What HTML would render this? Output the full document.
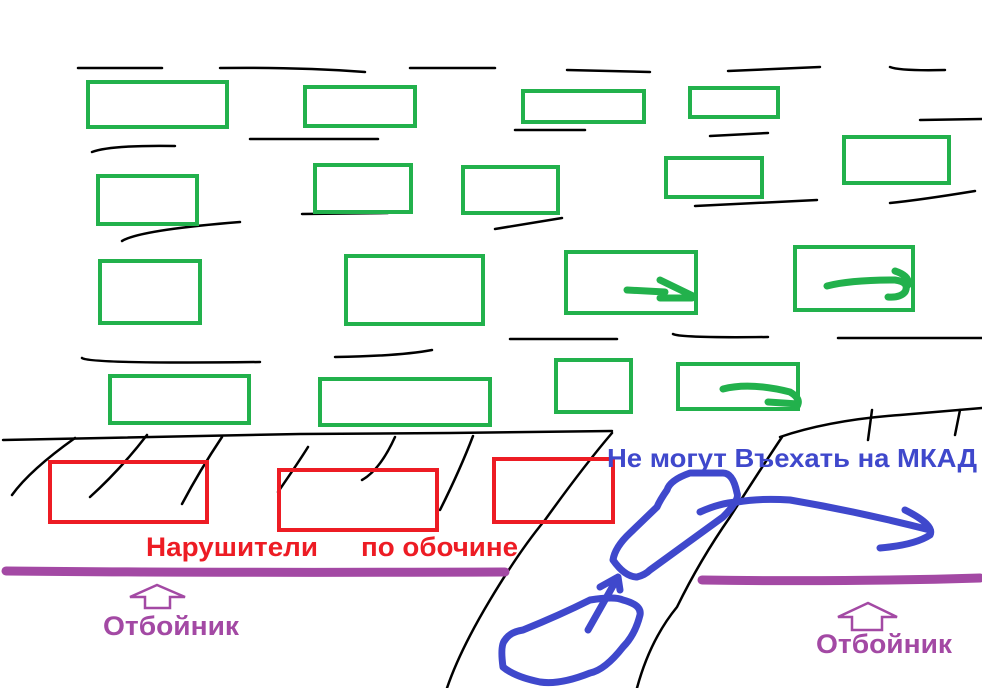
<!DOCTYPE html>
<html><head><meta charset="utf-8"><style>
html,body{margin:0;padding:0;background:#fff;width:982px;height:688px;overflow:hidden}
svg{display:block}
text{font-family:"Liberation Sans Narrow","Liberation Sans",sans-serif;font-weight:bold}
</style></head><body>
<svg width="982" height="688" viewBox="0 0 982 688" xmlns="http://www.w3.org/2000/svg">
<g fill="none" stroke="#000" stroke-width="2.5" stroke-linecap="round">
<path d="M78 68 L162 68"/><path d="M220 68 Q300 67 365 72"/><path d="M410 68 L495 68"/><path d="M567 70 L650 72"/><path d="M728 71 L820 67"/><path d="M890 67 Q900 71 945 70"/>
<path d="M250 139 L378 139"/><path d="M515 130 L585 130"/><path d="M710 136 L768 133"/><path d="M920 120 L982 119"/>
<path d="M92 152 Q110 145 175 146"/>
<path d="M122 241 Q140 230 240 222"/><path d="M302 214 L388 213"/><path d="M495 229 L562 218"/><path d="M695 206 L817 200"/><path d="M890 203 Q920 200 975 191"/>
<path d="M510 339 L617 339"/><path d="M673 334 Q680 338 768 337"/><path d="M838 338 L982 338"/>
<path d="M82 358 Q90 364 260 362"/><path d="M335 357 Q400 356 432 350"/>
<path d="M3 440 Q100 438 300 434 L450 433 L612 431"/>
<path d="M780 437 Q830 420 900 415 L982 408"/>
<path d="M447 688 Q460 650 490 600 Q520 550 545 520 Q583 467 612 433"/>
<path d="M637 688 Q650 640 677 607 Q700 560 730 517 Q760 470 782 437"/>
<path d="M12 495 Q30 470 75 438"/><path d="M90 497 Q120 470 147 435"/><path d="M182 504 Q200 470 222 437"/>
<path d="M278 492 Q300 460 308 447"/><path d="M362 480 Q380 470 395 437"/><path d="M440 510 Q460 470 473 436"/>
<path d="M868 440 L872 410"/><path d="M955 435 L960 410"/>
</g>
<g fill="none" stroke="#22b14c" stroke-width="4">
<rect x="88" y="82" width="139" height="45"/><rect x="305" y="87" width="110" height="39"/><rect x="523" y="91" width="121" height="31"/><rect x="690" y="88" width="88" height="29"/>
<rect x="98" y="176" width="99" height="48"/><rect x="315" y="165" width="96" height="47"/><rect x="463" y="167" width="95" height="46"/><rect x="666" y="158" width="96" height="39"/><rect x="844" y="137" width="105" height="46"/>
<rect x="100" y="261" width="100" height="62"/><rect x="346" y="256" width="137" height="68"/><rect x="566" y="252" width="130" height="61"/><rect x="795" y="247" width="118" height="63"/>
<rect x="110" y="376" width="139" height="47"/><rect x="320" y="379" width="170" height="46"/><rect x="556" y="360" width="75" height="52"/><rect x="678" y="364" width="120" height="45"/>
</g>
<g fill="none" stroke="#22b14c" stroke-width="7" stroke-linecap="round">
<path d="M627 290 L665 292 M660 280 L693 296 M660 298 L692 298"/>
<path d="M827 286 Q850 280 895 280 Q910 282 905 292 Q900 298 888 297 M895 271 Q910 276 908 285"/>
<path d="M723 389 Q750 382 790 392 Q800 398 798 404 L768 402"/>
</g>
<g fill="none" stroke="#ed1c24" stroke-width="4">
<rect x="50" y="462" width="157" height="60"/><rect x="279" y="470" width="158" height="60"/><rect x="494" y="459" width="119" height="63"/>
</g>
<g stroke="#a349a4" stroke-linecap="round">
<path d="M6 571 Q200 573 505 572" stroke-width="9"/>
<path d="M702 580 Q850 582 980 578" stroke-width="9"/>
</g>
<g fill="none" stroke="#a349a4" stroke-width="2.5">
<path d="M145 608 L145 597 L130 597 L157 585 L185 597 L170 597 L170 608 Z"/>
<path d="M852 630 L852 617 L838 617 L868 603 L897 617 L882 617 L882 630 Z"/>
</g>
<g fill="none" stroke="#3f48cc" stroke-width="7" stroke-linecap="round" stroke-linejoin="round">
<path d="M503 667 Q500 645 505 640 Q510 632 523 630 Q560 615 590 600 Q615 596 623 600 Q642 605 640 615 Q635 635 623 647 Q605 670 590 673 Q560 685 540 682 Q515 677 503 667"/>
<path d="M588 630 L618 577 M600 587 L618 577 L620 590"/>
<path d="M613 560 Q625 577 637 577 Q645 575 650 570 L723 517 Q740 500 737 493 Q733 473 723 473 L690 473 Q670 480 667 490 Q660 500 657 507 L630 533 Q615 547 613 560"/>
<path d="M700 512 Q720 503 737 502 Q760 498 790 500 Q860 512 930 530 M905 510 Q935 525 930 535 Q915 545 880 548"/>
</g>
<text x="146" y="556" fill="#ed1c24" font-size="27" textLength="172" lengthAdjust="spacingAndGlyphs">Нарушители</text>
<text x="361" y="556" fill="#ed1c24" font-size="27" textLength="157" lengthAdjust="spacingAndGlyphs">по обочине</text>
<text x="103" y="635" fill="#a349a4" font-size="27" textLength="136" lengthAdjust="spacingAndGlyphs">Отбойник</text>
<text x="816" y="653" fill="#a349a4" font-size="27" textLength="136" lengthAdjust="spacingAndGlyphs">Отбойник</text>
<text x="607" y="467" fill="#3f48cc" font-size="26" textLength="370" lengthAdjust="spacingAndGlyphs">Не могут Въехать на МКАД</text>
</svg>
</body></html>
